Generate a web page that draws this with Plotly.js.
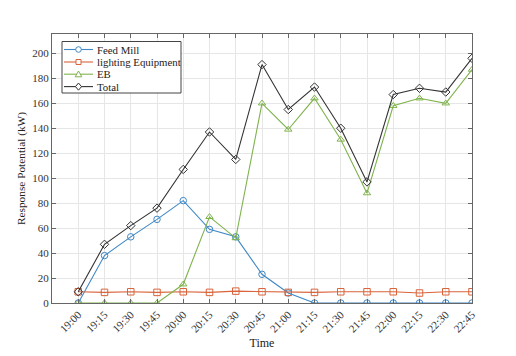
<!DOCTYPE html>
<html>
<head>
<meta charset="utf-8">
<script src="https://cdn.plot.ly/plotly-3.0.1.min.js"></script>
<style>html,body{margin:0;padding:0;background:#fff;}#chart{width:516px;height:356px;}</style>
</head>
<body>
<div id="chart"></div>
<script>
const timeLabels = ["19:00","19:15","19:30","19:45","20:00","20:15","20:30","20:45","21:00","21:15","21:30","21:45","22:00","22:15","22:30","22:45"];
const feedMill = [0,38,53,67,82,59,53,23,8,0,0,0,0,0,0,0];
const lighting = [9,8.5,9,8.5,9,8.5,9.5,9,8.5,8.5,9,9,9,8,9,9];
const eb = [0,0,0,0,15,69,52,160,139,164,131,88,158,164,160,187];
const total = [9,47,62,76,107,137,115,191,155,173,140,97,167,172,169,196];
const seriesNames = ["Feed Mill", "lighting Equipment", "EB", "Total"];
const idx = timeLabels.map((_, i) => i);

const colors = ["#3f88c5", "#d9633a", "#7fb34d", "#333333"];
const symbols = ["circle-open", "square-open", "triangle-up-open", "diamond-open"];
const font = "Liberation Serif, Times New Roman, serif";

function tr(i, y) {
  return {
    x: idx, y: y, name: seriesNames[i], type: "scatter", mode: "lines+markers",
    line: {color: colors[i], width: 1.1},
    marker: {symbol: symbols[i], size: 6.5, color: colors[i], line: {color: colors[i], width: 1}}
  };
}
const data = [tr(0, feedMill), tr(1, lighting), tr(2, eb), tr(3, total)];

// custom compact legend (pixel layout converted to paper coords)
const M = {l: 52, r: 44, t: 34, b: 53}, W = 516, H = 356;
const pw = W - M.l - M.r, ph = H - M.t - M.b;
const px = x => (x - M.l) / pw;
const py = y => (H - M.b - y) / ph;
const shapes = [];
const annotations = [];
shapes.push({type: "rect", xref: "paper", yref: "paper", x0: px(62), x1: px(181), y0: py(41.5), y1: py(93),
  fillcolor: "#fff", line: {color: "#444", width: 1}, layer: "above"});
const rowY = [49.5, 62, 74.2, 86.6];
seriesNames.forEach((nm, i) => {
  const y = rowY[i], c = colors[i], cx = 78.5;
  shapes.push({type: "line", xref: "paper", yref: "paper", x0: px(64), x1: px(93), y0: py(y), y1: py(y),
    line: {color: c, width: 1.1}, layer: "above"});
  const r = 2.8;
  let s;
  if (i === 0) s = {type: "circle", x0: px(cx - r), x1: px(cx + r), y0: py(y + r), y1: py(y - r)};
  else if (i === 1) s = {type: "rect", x0: px(cx - r + 0.3), x1: px(cx + r - 0.3), y0: py(y + r - 0.3), y1: py(y - r + 0.3)};
  else if (i === 2) s = {type: "path", path: `M ${px(cx - 3.3)} ${py(y + 2.6)} L ${px(cx + 3.3)} ${py(y + 2.6)} L ${px(cx)} ${py(y - 3.2)} Z`};
  else s = {type: "path", path: `M ${px(cx)} ${py(y - 3.6)} L ${px(cx + 3)} ${py(y)} L ${px(cx)} ${py(y + 3.6)} L ${px(cx - 3)} ${py(y)} Z`};
  Object.assign(s, {xref: "paper", yref: "paper", fillcolor: "#fff", line: {color: c, width: 1}, layer: "above"});
  shapes.push(s);
  annotations.push({xref: "paper", yref: "paper", x: px(95), y: py(y), xanchor: "left", yanchor: "middle",
    text: nm, showarrow: false, font: {family: font, size: 10.8, color: "#222"}});
});

const axisCommon = {
  showgrid: true, gridcolor: "#e6e6e6", zeroline: false,
  showline: true, linecolor: "#666", linewidth: 1, mirror: "ticks",
  ticks: "inside", ticklen: 4, tickcolor: "#666",
  tickfont: {family: font, size: 11, color: "#333"}
};
const layout = {
  width: W, height: H, margin: M,
  paper_bgcolor: "#fff", plot_bgcolor: "#fff",
  font: {family: font, size: 11, color: "#333"},
  showlegend: false,
  shapes: shapes, annotations: annotations,
  xaxis: Object.assign({}, axisCommon, {
    range: [-1, 15], tickvals: idx, ticktext: timeLabels, tickangle: -45,
    title: {text: "Time", font: {family: font, size: 12, color: "#222"}, standoff: 4}
  }),
  yaxis: Object.assign({}, axisCommon, {
    range: [0, 215.5], tick0: 0, dtick: 20,
    title: {text: "Response Potential (kW)", font: {family: font, size: 11.3, color: "#222"}, standoff: 4}
  })
};
Plotly.newPlot("chart", data, layout, {staticPlot: true, displayModeBar: false});
</script>
</body>
</html>
